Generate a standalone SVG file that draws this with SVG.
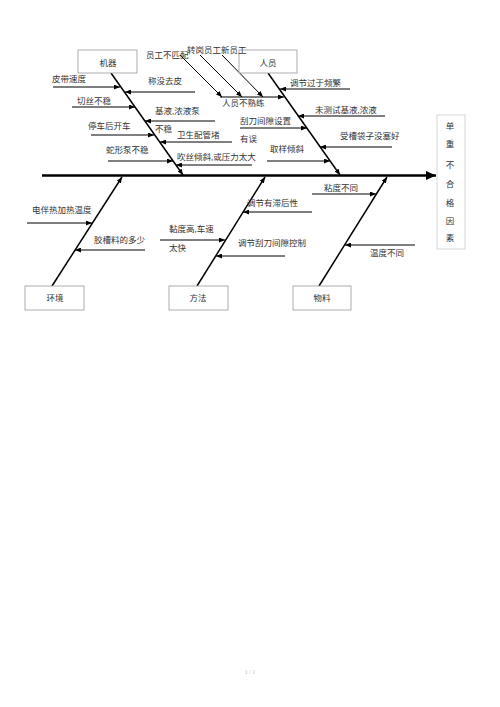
<svg xmlns="http://www.w3.org/2000/svg" width="500" height="707" viewBox="0 0 500 707">
<defs>
<marker id="a" markerUnits="userSpaceOnUse" markerWidth="7" markerHeight="5" refX="6" refY="2.5" orient="auto"><path d="M0,0 L6,2.5 L0,5 z" fill="#000"/></marker>
<marker id="b" markerUnits="userSpaceOnUse" markerWidth="11" markerHeight="9" refX="10" refY="4.5" orient="auto"><path d="M0,0 L10,4.5 L0,9 z" fill="#000"/></marker>
</defs>
<style>
text{font-family:"Liberation Serif","Noto Sans CJK SC",serif;font-size:8.5px;fill:#333}
.box{fill:#fff;stroke:#999;stroke-width:0.8}
.lbl{text-anchor:middle}
.bone{stroke:#000;stroke-width:1.5;fill:none}
.sub{stroke:#000;stroke-width:1;fill:none;marker-end:url(#a)}
.ft{font-size:6px;fill:#bbb;text-anchor:middle}
</style>
<rect width="500" height="707" fill="#fff"/>

<g id="connectors">
<line x1="42" y1="175.5" x2="436" y2="175.5" stroke="#000" stroke-width="2.5" marker-end="url(#b)"/>
<line class="bone" x1="111" y1="73" x2="183" y2="175" marker-end="url(#a)"/>
<line class="bone" x1="268" y1="73" x2="340" y2="175" marker-end="url(#a)"/>
<line class="bone" x1="52" y1="286" x2="122" y2="177" marker-end="url(#a)"/>
<line class="bone" x1="197" y1="286" x2="265" y2="177" marker-end="url(#a)"/>
<line class="bone" x1="319" y1="286" x2="387" y2="177" marker-end="url(#a)"/>

<line class="sub" x1="53" y1="87" x2="120" y2="87"/>
<line class="sub" x1="195" y1="92" x2="125" y2="92"/>
<line class="sub" x1="72" y1="107" x2="135" y2="107"/>
<line class="sub" x1="215" y1="121" x2="145" y2="121"/>
<line class="sub" x1="91" y1="135" x2="154" y2="135"/>
<line class="sub" x1="232" y1="142" x2="160" y2="142"/>
<line class="sub" x1="108" y1="161" x2="173" y2="161"/>
<line class="sub" x1="252" y1="165" x2="176" y2="165"/>

<line class="sub" x1="180" y1="55" x2="222" y2="97"/>
<line class="sub" x1="200" y1="55" x2="242" y2="97"/>
<line class="sub" x1="222" y1="55" x2="263" y2="97"/>
<line class="sub" x1="220" y1="97" x2="284" y2="97"/>
<line class="sub" x1="350" y1="89" x2="280" y2="89"/>
<line class="sub" x1="385" y1="116" x2="298" y2="116"/>
<line class="sub" x1="240" y1="128" x2="307" y2="128"/>
<line class="sub" x1="392" y1="147" x2="320" y2="147"/>
<line class="sub" x1="267" y1="161" x2="330" y2="161"/>

<line class="sub" x1="27" y1="223" x2="92" y2="223"/>
<line class="sub" x1="145" y1="250" x2="75" y2="250"/>
<line class="sub" x1="160" y1="240" x2="225" y2="240"/>
<line class="sub" x1="312" y1="212" x2="243" y2="212"/>
<line class="sub" x1="285" y1="256" x2="216" y2="256"/>
<line class="sub" x1="312" y1="194" x2="376" y2="194"/>
<line class="sub" x1="415" y1="245" x2="345" y2="245"/>
</g>

<g id="node-jiqi"><rect class="box" x="78" y="50" width="59" height="23"/><text class="lbl" x="108" y="66">机器</text></g>
<g id="node-renyuan"><rect class="box" x="239" y="50" width="58" height="23"/><text class="lbl" x="268" y="66">人员</text></g>
<g id="node-huanjing"><rect class="box" x="25" y="286" width="59" height="24"/><text class="lbl" x="55" y="301">环境</text></g>
<g id="node-fangfa"><rect class="box" x="169" y="286" width="59" height="24"/><text class="lbl" x="198" y="301">方法</text></g>
<g id="node-wuliao"><rect class="box" x="293" y="286" width="58" height="24"/><text class="lbl" x="322" y="301">物料</text></g>
<g id="node-result">
<rect x="437" y="115" width="28" height="134" fill="#fff" stroke="#ccc" stroke-width="0.8"/>
<text class="lbl" x="450" y="128.5">单</text>
<text class="lbl" x="450" y="147">重</text>
<text class="lbl" x="450" y="167.5">不</text>
<text class="lbl" x="450" y="186.5">合</text>
<text class="lbl" x="450" y="206">格</text>
<text class="lbl" x="450" y="223.5">因</text>
<text class="lbl" x="450" y="240.5">素</text>
</g>

<g id="labels">
<text x="52" y="82">皮带速度</text>
<text x="148" y="84">称没去皮</text>
<text x="77" y="104">切丝不稳</text>
<text x="155" y="114">基液,浓液泵</text>
<text x="88" y="129">停车后开车</text>
<text x="155" y="132">不稳</text>
<text x="177" y="138">卫生配管堵</text>
<text x="106" y="153">蛇形泵不稳</text>
<text x="177" y="160">吹丝倾斜,或压力太大</text>

<text x="146" y="58">员工不匹配</text>
<text x="187" y="53">转岗员工新员工</text>
<text x="222" y="106">人员不熟练</text>
<text x="290" y="86">调节过于频繁</text>
<text x="315" y="113">未测试基液,浓液</text>
<text x="240" y="124">刮刀间隙设置</text>
<text x="240" y="142">有误</text>
<text x="340" y="139">受槽袋子没塞好</text>
<text x="270" y="152">取样倾斜</text>

<text x="32" y="213">电伴热加热温度</text>
<text x="94" y="243">胶槽料的多少</text>
<text x="169" y="232">黏度高,车速</text>
<text x="169" y="251">太快</text>
<text x="247" y="206">调节有滞后性</text>
<text x="238" y="246">调节刮刀间隙控制</text>
<text x="324" y="191">粘度不同</text>
<text x="370" y="256">温度不同</text>
</g>

<text class="ft" x="250" y="674">1 / 1</text>
</svg>
